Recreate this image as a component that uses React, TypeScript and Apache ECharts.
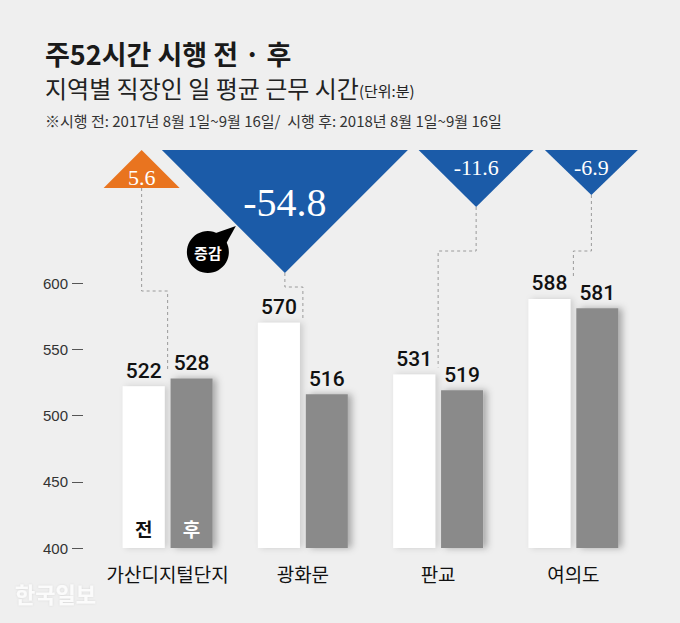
import React, { useEffect, useRef } from 'react';
import * as echarts from 'echarts';

const CATEGORIES = ['가산디지털단지', '광화문', '판교', '여의도'];
const BEFORE = [522, 570, 531, 588];
const AFTER = [528, 516, 519, 581];
const CHANGE_LABELS = ['5.6', '-54.8', '-11.6', '-6.9'];
const CHANGE_SIGN = [1, -1, -1, -1];
const Y_TICKS = [400, 450, 500, 550, 600];
const SERIES_NAMES = ['전', '후'];

const TITLE = '주52시간 시행 전 · 후';
const SUBTITLE = '지역별 직장인 일 평균 근무 시간';
const UNIT = '(단위:분)';
const NOTE = '※시행 전: 2017년 8월 1일~9월 16일/  시행 후: 2018년 8월 1일~9월 16일';
const BUBBLE = '증감';
const SOURCE = '한국일보';

// annotation layout (pixels) per category
const TRI_DX = [-26, -18, 38, 18];
const TRI_HALF_W = [38, 123, 57.5, 46.5];
const TRI_H = [38, 123, 57, 45];
const TRI_FONT = [22, 40, 22, 22];
const TRI_TEXT_Y = [177, 202, 167, 167];
const ELBOW_Y = [291, 287, 251, 251];
const END_GAP = [7, 4, 7, 21];
const TRI_TOP = 150;

const KR = "'Noto Sans CJK KR', 'Noto Sans', sans-serif";
const NUM = "Roboto, 'Liberation Sans', sans-serif";
const SERIF = "'Liberation Serif', 'DejaVu Serif', serif";
const BG = '#efefef';
const BLUE = '#1b5ba8';
const ORANGE = '#e9741f';

export default function App() {
  const ref = useRef<HTMLDivElement>(null);

  useEffect(() => {
    if (!ref.current) return;
    const chart = echarts.init(ref.current, null, { renderer: 'svg' });

    const markFor = (idx: number, color: string) => ({
      symbol: 'rect',
      symbolSize: 1,
      itemStyle: { color: 'rgba(0,0,0,0)' },
      label: {
        show: true,
        position: 'top',
        distance: 10,
        formatter: SERIES_NAMES[idx],
        fontSize: 19,
        fontWeight: 'bold',
        color,
        fontFamily: KR,
      },
      data: [{ coord: [CATEGORIES[0], Y_TICKS[0]] }],
    });

    const valueLabel = {
      show: true,
      position: 'top',
      distance: 5,
      fontSize: 21,
      fontWeight: 500,
      color: '#111',
      fontFamily: NUM,
    };

    chart.setOption({
      animation: false,
      backgroundColor: BG,
      title: [
        {
          text: TITLE,
          left: 45,
          top: 40,
          padding: 0,
          textStyle: { fontSize: 27, fontWeight: 'bold', color: '#1a1a1a', fontFamily: KR },
        },
        {
          text: `{a|${SUBTITLE}}{b|${UNIT}}`,
          left: 45,
          top: 75,
          padding: 0,
          textStyle: {
            fontWeight: 'normal',
            fontFamily: KR,
            rich: {
              a: { fontSize: 24, fontWeight: 'normal', color: '#222', fontFamily: KR },
              b: { fontSize: 15, fontWeight: 'normal', color: '#222', fontFamily: KR, verticalAlign: 'bottom', padding: [0, 0, 1, 0] },
            },
          },
        },
        {
          text: NOTE,
          left: 45,
          top: 113,
          padding: 0,
          textStyle: { fontSize: 15, fontWeight: 'normal', color: '#333', fontFamily: KR },
        },
      ],
      grid: { left: 100, right: 39, top: 283, bottom: 75 },
      xAxis: {
        type: 'category',
        data: CATEGORIES,
        axisTick: { show: false },
        axisLine: {
          show: true,
          lineStyle: { color: '#7a7a7a', width: 2, shadowBlur: 4, shadowColor: 'rgba(0,0,0,0.45)' },
        },
        axisLabel: { interval: 0, fontSize: 19, color: '#111', margin: 16, fontFamily: KR },
        z: 5,
      },
      yAxis: {
        type: 'value',
        min: Y_TICKS[0],
        max: Y_TICKS[Y_TICKS.length - 1],
        interval: Y_TICKS[1] - Y_TICKS[0],
        offset: 17,
        axisLine: { show: false },
        axisTick: { show: true, length: 11, lineStyle: { color: '#555', width: 1 } },
        splitLine: { show: false },
        axisLabel: { fontSize: 15, color: '#333', margin: 15, fontFamily: "'Liberation Sans', Arial, sans-serif" },
      },
      series: [
        {
          type: 'bar',
          name: SERIES_NAMES[0],
          data: BEFORE,
          barWidth: 42,
          barGap: '14%',
          itemStyle: { color: '#ffffff', shadowBlur: 6, shadowOffsetX: 3, shadowColor: 'rgba(0,0,0,0.15)' },
          label: valueLabel,
          markPoint: markFor(0, '#111'),
        },
        {
          type: 'bar',
          name: SERIES_NAMES[1],
          data: AFTER,
          barWidth: 42,
          barGap: '14%',
          itemStyle: { color: '#8a8a8a', shadowBlur: 7, shadowOffsetX: 4, shadowColor: 'rgba(0,0,0,0.3)' },
          label: valueLabel,
          markPoint: markFor(1, '#ffffff'),
        },
      ],
    });

    const graphics: any[] = [];
    CATEGORIES.forEach((c, i) => {
      const cx = chart.convertToPixel({ xAxisIndex: 0 }, c) as number;
      const topVal = Math.max(BEFORE[i], AFTER[i]);
      const topY = chart.convertToPixel({ yAxisIndex: 0 }, topVal) as number;
      const tx = cx + TRI_DX[i];
      const hw = TRI_HALF_W[i];
      const up = CHANGE_SIGN[i] > 0;
      const bottomY = TRI_TOP + TRI_H[i];
      const points = up
        ? [[tx, TRI_TOP], [tx + hw, bottomY], [tx - hw, bottomY]]
        : [[tx - hw, TRI_TOP], [tx + hw, TRI_TOP], [tx, bottomY]];
      graphics.push({
        type: 'polyline',
        z: 1,
        shape: {
          points: [
            [tx, bottomY],
            [tx, ELBOW_Y[i]],
            [cx, ELBOW_Y[i]],
            [cx, topY - END_GAP[i]],
          ],
        },
        style: { stroke: '#9a9a9a', lineWidth: 1, lineDash: [3, 3], fill: null },
      });
      graphics.push({
        type: 'polygon',
        z: 3,
        shape: { points },
        style: { fill: up ? ORANGE : BLUE },
      });
      graphics.push({
        type: 'text',
        z: 4,
        x: tx,
        y: TRI_TEXT_Y[i],
        style: {
          text: CHANGE_LABELS[i],
          fill: '#ffffff',
          fontSize: TRI_FONT[i],
          fontFamily: SERIF,
          textAlign: 'center',
          textVerticalAlign: 'middle',
        },
      });
      if (i === 1) {
        const bx = tx - 77;
        const by = 252;
        graphics.push({
          type: 'polygon',
          z: 5,
          shape: { points: [[bx + 8, by - 19], [bx + 28, by - 26], [bx + 18, by - 8]] },
          style: { fill: '#000' },
        });
        graphics.push({
          type: 'circle',
          z: 5,
          shape: { cx: bx, cy: by, r: 21 },
          style: { fill: '#000' },
        });
        graphics.push({
          type: 'text',
          z: 6,
          x: bx,
          y: by,
          style: {
            text: BUBBLE,
            fill: '#ffffff',
            fontSize: 15,
            fontWeight: 'bold',
            fontFamily: KR,
            textAlign: 'center',
            textVerticalAlign: 'middle',
          },
        });
      }
    });
    graphics.push({
      type: 'text',
      z: 2,
      x: 15,
      y: 593,
      style: {
        text: SOURCE,
        fill: '#fbfbfb',
        fontSize: 22,
        fontWeight: 'bold',
        fontFamily: KR,
        textVerticalAlign: 'middle',
        textShadowColor: 'rgba(0,0,0,0.1)',
        textShadowBlur: 2,
      },
    });
    chart.setOption({ graphic: graphics });

    return () => chart.dispose();
  }, []);

  return (
    <div
      ref={ref}
      style={{ position: 'fixed', left: 0, top: 0, width: 680, height: 623, background: BG }}
    />
  );
}
